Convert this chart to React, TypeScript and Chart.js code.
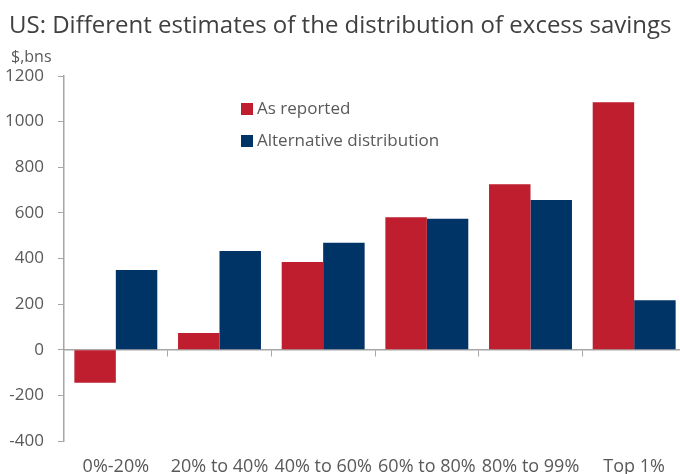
import React, { useEffect, useRef } from "react";
import { Chart, registerables } from "chart.js";

Chart.register(...registerables);

const TITLE = "US: Different estimates of the distribution of excess savings";
const UNIT = "$,bns";
const categories = ["0%-20%", "20% to 40%", "40% to 60%", "60% to 80%", "80% to 99%", "Top 1%"];
const asReported = [-145, 73, 385, 581, 726, 1085];
const alternative = [350, 433, 469, 574, 656, 217];
const seriesNames = ["As reported", "Alternative distribution"];
const seriesColors = ["#BE1E2D", "#003366"];

const FONT = "'Open Sans', 'Noto Sans', sans-serif";
const TEXT = "#595959";
const AXIS = "#A6A6A6";

const overlayPlugin = {
  id: "overlay",
  afterDraw(chart: any) {
    const ctx = chart.ctx;
    ctx.save();
    ctx.fillStyle = "#404040";
    ctx.font = `24px ${FONT}`;
    ctx.textBaseline = "alphabetic";
    ctx.textAlign = "left";
    ctx.fillText(TITLE, 9, 33);
    ctx.fillStyle = TEXT;
    ctx.font = `16px ${FONT}`;
    ctx.fillText(UNIT, 11, 62);
    // legend
    const lx = 241;
    const ly = [109, 141];
    chart.data.datasets.forEach((ds: any, i: number) => {
      ctx.fillStyle = ds.backgroundColor;
      ctx.fillRect(lx, ly[i] - 6, 12, 12);
      ctx.fillStyle = TEXT;
      ctx.font = `17px ${FONT}`;
      ctx.textBaseline = "middle";
      ctx.fillText(ds.label, lx + 16, ly[i]);
    });
    ctx.restore();
  },
};

export default function App() {
  const ref = useRef<HTMLCanvasElement>(null);
  useEffect(() => {
    if (!ref.current) return;
    const chart = new Chart(ref.current, {
      type: "bar",
      data: {
        labels: categories,
        datasets: [
          { label: seriesNames[0], data: asReported, backgroundColor: seriesColors[0], xAxisID: "x", yAxisID: "y" },
          { label: seriesNames[1], data: alternative, backgroundColor: seriesColors[1], xAxisID: "x", yAxisID: "y" },
        ],
      },
      options: {
        animation: false,
        responsive: false,
        maintainAspectRatio: false,
        layout: { padding: { top: 76, right: 4, left: 0, bottom: 0 } },
        datasets: { bar: { categoryPercentage: 0.8, barPercentage: 1 } } as any,
        plugins: { legend: { display: false }, title: { display: false }, tooltip: { enabled: false } },
        scales: {
          x: {
            type: "category",
            position: { y: 0 } as any,
            grid: { display: true, offset: true, drawOnChartArea: false, drawTicks: true, tickLength: 6, color: AXIS },
            border: { display: true, color: AXIS, width: 1.5 },
            ticks: { display: false },
          },
          x2: {
            type: "category",
            labels: categories,
            position: "bottom",
            grid: { display: false },
            border: { display: false },
            ticks: { color: TEXT, font: { family: FONT, size: 18 }, padding: 7, maxRotation: 0, autoSkip: false },
            afterFit(scale: any) { scale.height = 33; },
          } as any,
          y: {
            min: -400,
            max: 1200,
            grid: { display: true, drawOnChartArea: false, drawTicks: true, tickLength: 6, color: AXIS },
            border: { display: true, color: AXIS, width: 1.5 },
            ticks: {
              stepSize: 200,
              color: TEXT,
              font: { family: FONT, size: 17 },
              padding: 14,
              callback: (v: any) => String(v),
            },
            afterFit(scale: any) { scale.width = 64; },
          },
        },
      },
      plugins: [overlayPlugin],
    });
    return () => chart.destroy();
  }, []);
  return (
    <div style={{ position: "absolute", left: 0, top: 0, width: 680, height: 474, overflow: "hidden", background: "#fff" }}>
      <canvas ref={ref} width={690} height={474} style={{ display: "block" }} />
    </div>
  );
}
